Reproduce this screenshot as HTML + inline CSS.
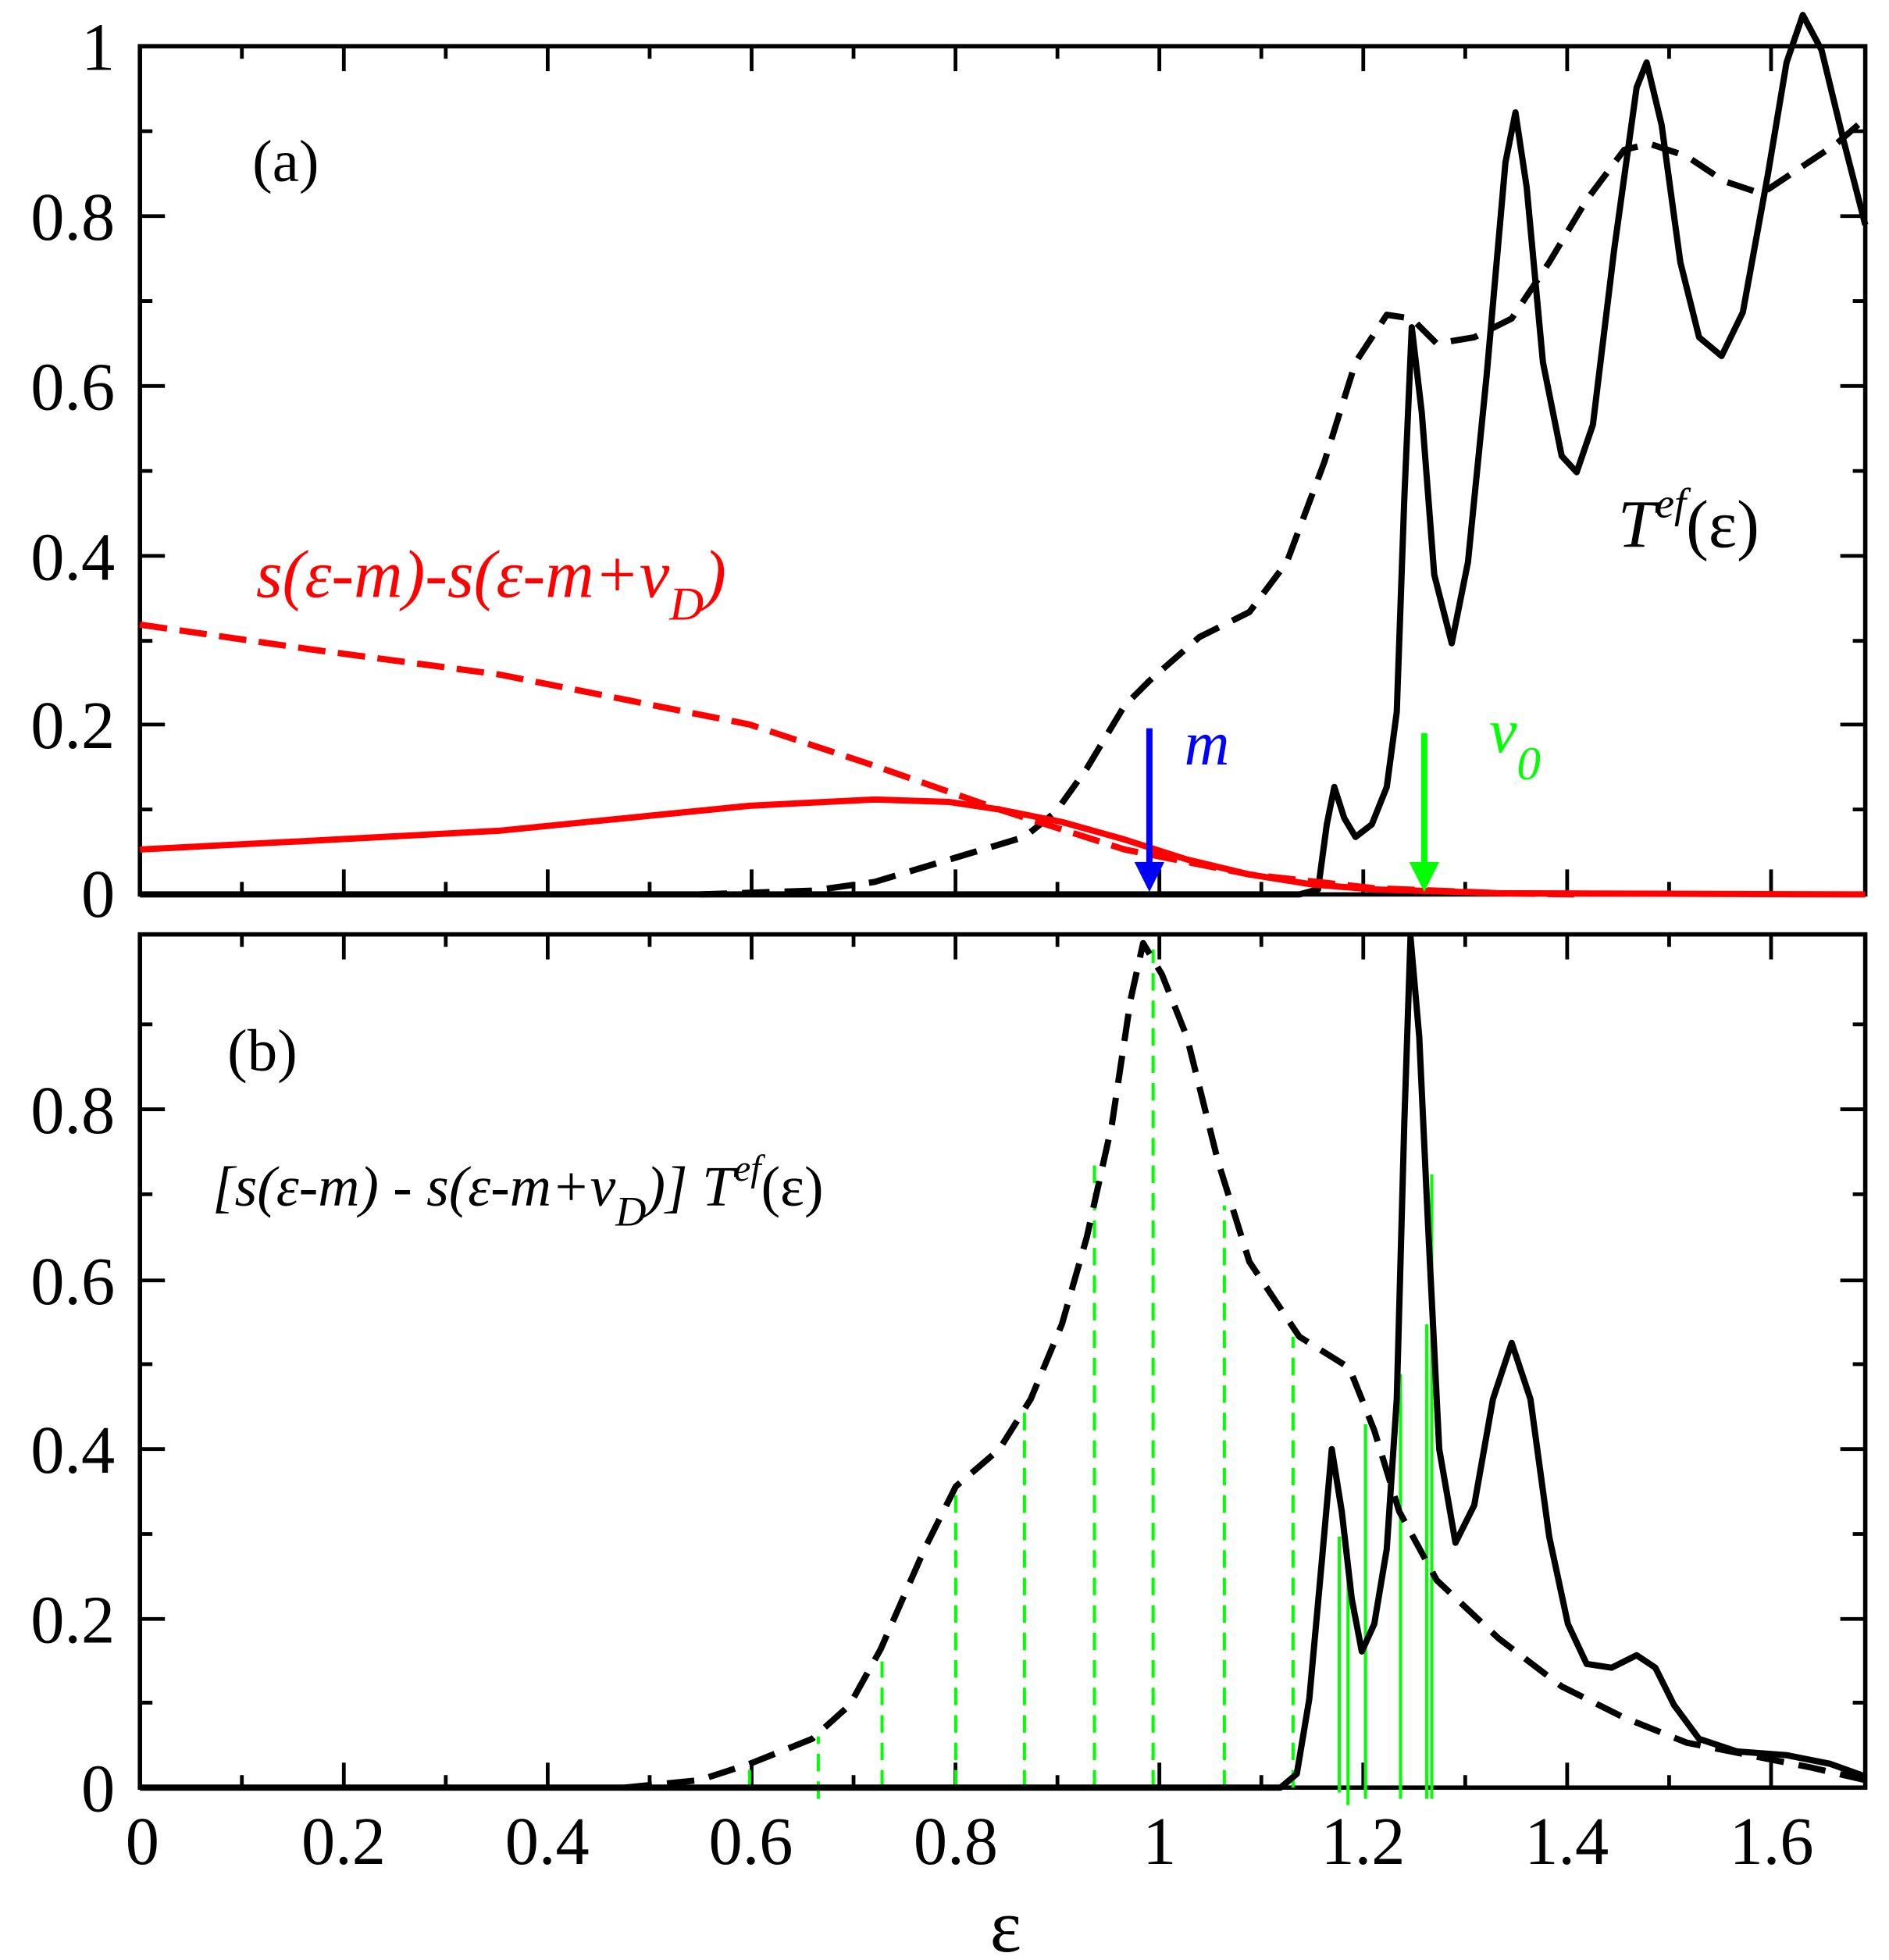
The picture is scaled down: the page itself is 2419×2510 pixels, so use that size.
<!DOCTYPE html>
<html><head><meta charset="utf-8"><style>
html,body{margin:0;padding:0;background:#fff}
svg{display:block}
text{font-family:"Liberation Serif",serif}
</style></head><body>
<svg width="2419" height="2510" viewBox="0 0 1512 1569" preserveAspectRatio="none" xmlns="http://www.w3.org/2000/svg">
<g fill="none" stroke="#000" stroke-width="3.5">
<rect x="112" y="37" width="1381" height="679"/>
<rect x="112" y="748" width="1381" height="683"/>
</g>
<g stroke="#000" stroke-width="3">
<path d="M112 37v20M275.2 37v20M438.4 37v20M601.6 37v20M764.8 37v20M928 37v20M1091.2 37v20M1254.4 37v20M1417.6 37v20
M193.6 37v10M356.8 37v10M520 37v10M683.2 37v10M846.4 37v10M1009.6 37v10M1172.8 37v10M1336 37v10
M275.2 716v-20M438.4 716v-20M601.6 716v-20M764.8 716v-20M928 716v-20M1091.2 716v-20M1254.4 716v-20M1417.6 716v-20
M193.6 716v-10M356.8 716v-10M520 716v-10M683.2 716v-10M846.4 716v-10M1009.6 716v-10M1172.8 716v-10M1336 716v-10
M275.2 748v20M438.4 748v20M601.6 748v20M764.8 748v20M928 748v20M1091.2 748v20M1254.4 748v20M1417.6 748v20
M193.6 748v10M356.8 748v10M520 748v10M683.2 748v10M846.4 748v10M1009.6 748v10M1172.8 748v10M1336 748v10
M275.2 1431v-20M438.4 1431v-20M601.6 1431v-20M764.8 1431v-20M928 1431v-20M1091.2 1431v-20M1254.4 1431v-20M1417.6 1431v-20
M193.6 1431v-10M356.8 1431v-10M520 1431v-10M683.2 1431v-10M846.4 1431v-10M1009.6 1431v-10M1172.8 1431v-10M1336 1431v-10
"/>
<path d="M112 173h20M112 309h20M112 445h20M112 580h20M112 105h10M112 241h10M112 377h10M112 513h10M112 648h10
M1493 173h-20M1493 309h-20M1493 445h-20M1493 580h-20M1493 105h-10M1493 241h-10M1493 377h-10M1493 513h-10M1493 648h-10"/>
<path d="M112 888h20M112 1025h20M112 1160h20M112 1296h20M112 820h10M112 956h10M112 1092h10M112 1228h10M112 1363h10
M1493 888h-20M1493 1025h-20M1493 1160h-20M1493 1296h-20M1493 820h-10M1493 956h-10M1493 1092h-10M1493 1228h-10M1493 1363h-10"/>
</g>
<g font-size="54" text-anchor="end" fill="#000">
<text x="92" y="56">1</text><text x="92" y="192">0.8</text><text x="92" y="328">0.6</text><text x="92" y="464">0.4</text><text x="92" y="599">0.2</text><text x="92" y="734">0</text>
<text x="92" y="907">0.8</text><text x="92" y="1044">0.6</text><text x="92" y="1179">0.4</text><text x="92" y="1315">0.2</text><text x="92" y="1450">0</text>
</g>
<g font-size="54" text-anchor="middle" fill="#000">
<text x="114" y="1492">0</text><text x="275" y="1492">0.2</text><text x="438" y="1492">0.4</text><text x="601" y="1492">0.6</text><text x="765" y="1492">0.8</text><text x="928" y="1492">1</text><text x="1091" y="1492">1.2</text><text x="1254" y="1492">1.4</text><text x="1418" y="1492">1.6</text>
<text x="805" y="1562" font-size="60">ε</text>
</g>
<g fill="none" stroke-linejoin="round">
<polyline stroke="#000" stroke-width="5" points="112,716 1040,716 1055,712 1062,660 1068,630 1076,655 1085,670 1098,660 1110,630 1118,570 1124,400 1130,262 1138,330 1148,460 1162,515 1175,450 1190,300 1205,130 1213,90 1222,150 1235,290 1250,365 1262,378 1275,340 1292,200 1310,70 1318,50 1330,100 1345,210 1360,270 1378,285 1395,250 1415,140 1430,50 1443,12 1458,40 1475,110 1493,180"/>
<polyline stroke="#000" stroke-width="5" stroke-dasharray="22,12" points="560,716 650,713 700,706 760,688 820,670 845,650 870,615 900,565 920,545 960,510 1000,490 1030,450 1060,370 1085,290 1110,252 1130,255 1150,275 1180,270 1210,255 1240,210 1270,160 1300,120 1320,115 1350,125 1380,145 1410,155 1440,135 1470,115 1493,95"/>
<polyline stroke="#f00" stroke-width="5" stroke-dasharray="22,10" points="112,500 250,520 400,540 500,560 600,580 700,613 800,648 900,680 1000,700 1100,711 1200,715 1260,716"/>
<polyline stroke="#f00" stroke-width="5" points="112,680 250,673 400,665 500,655 600,645 700,640 760,642 800,648 850,658 900,672 950,688 1000,700 1050,708 1100,712 1200,715 1493,716"/>
</g>
<line x1="920" y1="583" x2="920" y2="700" stroke="#00f" stroke-width="5"/>
<polygon points="908,690 932,690 920,714" fill="#00f"/>
<line x1="1140" y1="587" x2="1140" y2="700" stroke="#0f0" stroke-width="5"/>
<polygon points="1128,690 1152,690 1140,714" fill="#0f0"/>
<text x="948" y="612" font-size="50" font-style="italic" fill="#00f">m</text>
<text x="1192" y="602" font-size="50" font-style="italic" fill="#0f0">v<tspan font-size="38" dy="22">0</tspan></text>
<text x="1295" y="438" font-size="54" font-style="italic" fill="#000">T<tspan font-size="34" dy="-24">ef</tspan><tspan font-style="normal" dy="24">(ε)</tspan></text>
<text x="205" y="478" font-size="54" font-style="italic" fill="#f00">s(ε-m)-s(ε-m+v<tspan font-size="38" dy="18">D</tspan><tspan dy="-18">)</tspan></text>
<text x="202" y="145" font-size="48" fill="#000">(a)</text>
<g stroke="#0f0" stroke-width="2.5" stroke-dasharray="14,8">
<line x1="600" y1="1431" x2="600" y2="1410"/><line x1="655" y1="1440" x2="655" y2="1390"/><line x1="706" y1="1431" x2="706" y2="1330"/><line x1="765" y1="1431" x2="765" y2="1195"/><line x1="820" y1="1431" x2="820" y2="1130"/><line x1="876" y1="1431" x2="876" y2="930"/><line x1="923" y1="1431" x2="923" y2="760"/><line x1="980" y1="1431" x2="980" y2="965"/><line x1="1035" y1="1431" x2="1035" y2="1070"/>
</g>
<g stroke="#0f0" stroke-width="2.5">
<line x1="1072" y1="1435" x2="1072" y2="1230"/><line x1="1079" y1="1445" x2="1079" y2="1240"/><line x1="1093" y1="1440" x2="1093" y2="1140"/><line x1="1121" y1="1440" x2="1121" y2="1100"/><line x1="1142" y1="1440" x2="1142" y2="1060"/><line x1="1146" y1="1440" x2="1146" y2="940"/>
</g>
<g fill="none" stroke-linejoin="round">
<polyline stroke="#000" stroke-width="5" stroke-dasharray="22,12" points="500,1431 560,1425 600,1412 650,1392 680,1365 705,1320 740,1240 765,1190 800,1160 825,1120 850,1060 870,990 890,900 905,800 915,755 930,780 950,830 975,930 1000,1010 1040,1070 1080,1095 1100,1145 1120,1210 1150,1265 1200,1312 1250,1350 1300,1375 1350,1395 1400,1405 1450,1415 1493,1425"/>
<polyline stroke="#000" stroke-width="5" points="112,1431 1025,1431 1038,1420 1048,1360 1058,1250 1066,1160 1074,1210 1082,1280 1090,1322 1100,1300 1110,1240 1118,1120 1124,900 1129,750 1136,830 1143,980 1152,1160 1165,1235 1180,1205 1195,1120 1210,1075 1225,1120 1240,1230 1255,1300 1270,1332 1290,1335 1310,1325 1325,1335 1340,1365 1360,1392 1390,1402 1430,1405 1465,1412 1493,1422"/>
</g>
<text x="182" y="857" font-size="48" fill="#000">(b)</text>
<text x="170" y="965" font-size="46" font-style="italic" fill="#000">[s(ε-m) - s(ε-m+v<tspan font-size="34" dy="16">D</tspan><tspan dy="-16">)] T</tspan><tspan font-size="30" dy="-20">ef</tspan><tspan font-style="normal" dy="20">(ε)</tspan></text>
</svg>
</body></html>
